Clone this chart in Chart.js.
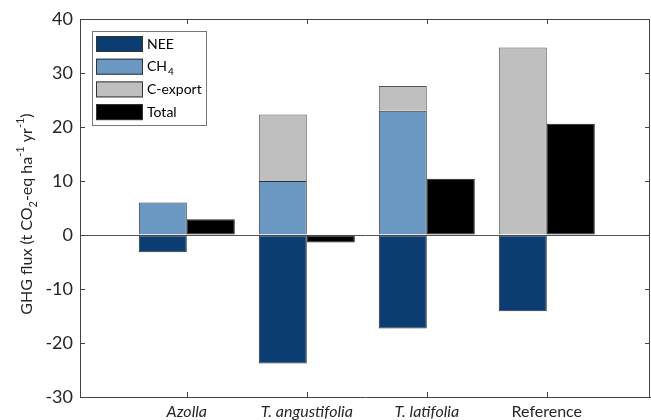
<!DOCTYPE html>
<html>
<head>
<meta charset="utf-8">
<script src="https://cdn.jsdelivr.net/npm/chart.js@4.4.1/dist/chart.umd.min.js"></script>
<style>
  html, body { margin: 0; padding: 0; background: #fff; }
  #wrap { width: 651px; height: 420px; }
</style>
</head>
<body>
<div id="wrap"><canvas id="ghgChart"></canvas></div>
<script>
// values (t CO2-eq ha-1 yr-1)
const categories = ["Azolla", "T. angustifolia", "T. latifolia", "Reference"];
const italicLabel = [true, true, true, false];
const nee = [-3.2, -23.8, -17.3, -14.1];
const ch4 = [6.0, 10.0, 23.0, 0];
const cExport = [0, 12.3, 4.6, 34.7];
const total = [2.9, -1.4, 10.4, 20.6];
const yTicks = [-30, -20, -10, 0, 10, 20, 30, 40];

const FONT = "Lato, 'Open Sans', sans-serif";
const TEXT = "#262626";
const AXIS = "#444";

const colors = {
    nee: "#0b3d72",
    ch4: "#6a98c3",
    cexp: "#bfbfbf",
    total: "#000000",
};

// box, inward ticks, legend and y title (sub/superscripts) drawn by hand
const matlabLook = {
    id: "matlabLook",
    afterDraw(chart) {
        const { ctx, chartArea: a, scales } = chart;
        const xs = scales.x, ys = scales.y;
        ctx.save();
        ctx.strokeStyle = AXIS;
        ctx.lineWidth = 1;
        ctx.beginPath();
        ctx.moveTo(a.left, a.top + 0.5);
        ctx.lineTo(a.right, a.top + 0.5);
        ctx.moveTo(a.right - 0.5, a.top);
        ctx.lineTo(a.right - 0.5, a.bottom);
        const tl = 5;
        yTicks.forEach((v) => {
            const y = Math.round(ys.getPixelForValue(v)) + 0.5;
            ctx.moveTo(a.left, y);
            ctx.lineTo(a.left + tl, y);
            ctx.moveTo(a.right, y);
            ctx.lineTo(a.right - tl, y);
        });
        categories.forEach((c, i) => {
            const x = Math.round(xs.getPixelForValue(i + 1)) + 0.5;
            ctx.moveTo(x, a.bottom);
            ctx.lineTo(x, a.bottom - tl);
            ctx.moveTo(x, a.top);
            ctx.lineTo(x, a.top + tl);
        });
        ctx.stroke();

        // legend
        const lx = 92, ly = 31, lw = 114, lh = 94;
        ctx.fillStyle = "#fff";
        ctx.fillRect(lx, ly, lw, lh);
        ctx.strokeStyle = "#777";
        ctx.strokeRect(lx + 0.5, ly + 0.5, lw, lh);
        const items = [
            { c: colors.nee, t: "NEE" },
            { c: colors.ch4, t: "CH", sub: "4" },
            { c: colors.cexp, t: "C-export" },
            { c: colors.total, t: "Total" },
        ];
        ctx.textBaseline = "middle";
        items.forEach((it, i) => {
            const y = ly + 5 + i * 22.7;
            ctx.fillStyle = it.c;
            ctx.fillRect(96, y, 47, 16);
            ctx.strokeStyle = "#333";
            ctx.strokeRect(96.5, y + 0.5, 46, 15);
            ctx.fillStyle = "#000";
            ctx.font = "14px " + FONT;
            ctx.fillText(it.t, 147, y + 8);
            if (it.sub) {
                const w = ctx.measureText(it.t).width;
                ctx.font = "10px " + FONT;
                ctx.fillText(it.sub, 147 + w + 1, y + 13);
            }
        });

        // y axis title
        const parts = [
            { t: "GHG flux (t CO", s: 0 },
            { t: "2", s: 1 },
            { t: "-eq ha", s: 0 },
            { t: "-1", s: -1 },
            { t: " yr", s: 0 },
            { t: "-1", s: -1 },
            { t: ")", s: 0 },
        ];
        const big = "16px " + FONT, small = "11px " + FONT;
        let width = 0;
        parts.forEach((p) => {
            ctx.font = p.s ? small : big;
            p.w = ctx.measureText(p.t).width;
            width += p.w;
        });
        ctx.translate(27, (a.top + a.bottom) / 2 + 6);
        ctx.rotate(-Math.PI / 2);
        ctx.fillStyle = TEXT;
        ctx.textBaseline = "middle";
        let px = -width / 2;
        parts.forEach((p) => {
            ctx.font = p.s ? small : big;
            const dy = p.s === 1 ? 6 : p.s === -1 ? -7 : 0;
            ctx.fillText(p.t, px, dy);
            px += p.w;
        });
        ctx.restore();
    },
};

const barStyle = {
    borderColor: "#333",
    borderWidth: 1,
    borderSkipped: false,
    categoryPercentage: 0.8,
    barPercentage: 1.0,
};

new Chart(document.getElementById("ghgChart"), {
    type: "bar",
    data: {
        labels: [1, 2, 3, 4],
        datasets: [
            { label: "NEE", data: nee, backgroundColor: colors.nee, stack: "parts", ...barStyle },
            { label: "CH4", data: ch4, backgroundColor: colors.ch4, stack: "parts", ...barStyle, borderSkipped: "start" },
            { label: "C-export", data: cExport, backgroundColor: colors.cexp, stack: "parts", ...barStyle, borderColor: "#555", borderSkipped: "start" },
            { label: "Total", data: total, backgroundColor: colors.total, stack: "total", ...barStyle, borderColor: "#222" },
        ],
    },
    options: {
        responsive: true,
        maintainAspectRatio: false,
        animation: false,
        layout: { padding: { left: 0, right: 1, top: 19, bottom: 0 } },
        plugins: {
            legend: { display: false },
            tooltip: { enabled: false },
        },
        scales: {
            x: {
                type: "linear",
                stacked: true,
                min: 0.11,
                max: 4.86,
                offset: false,
                grid: { display: false, drawTicks: false },
                border: { display: true, color: AXIS },
                afterBuildTicks: (scale) => {
                    scale.ticks = categories.map((c, i) => ({ value: i + 1 }));
                },
                afterFit: (scale) => {
                    scale.height = 23;
                },
                ticks: {
                    autoSkip: false,
                    maxRotation: 0,
                    padding: 5,
                    color: TEXT,
                    callback: (v) => categories[v - 1],
                    font: (ctx) => ({
                        family: FONT,
                        size: 16,
                        style: italicLabel[ctx.index] ? "italic" : "normal",
                    }),
                },
            },
            y: {
                stacked: true,
                min: -30,
                max: 40,
                afterFit: (scale) => {
                    scale.width = 80;
                },
                afterBuildTicks: (scale) => {
                    scale.ticks = yTicks.map((v) => ({ value: v }));
                },
                grid: {
                    drawTicks: false,
                    color: (ctx) => (ctx.tick && ctx.tick.value === 0 ? "#555" : "rgba(0,0,0,0)"),
                },
                border: { display: true, color: AXIS },
                ticks: {
                    padding: 7,
                    color: TEXT,
                    font: { family: FONT, size: 18 },
                },
            },
        },
    },
    plugins: [matlabLook],
});
</script>
</body>
</html>
